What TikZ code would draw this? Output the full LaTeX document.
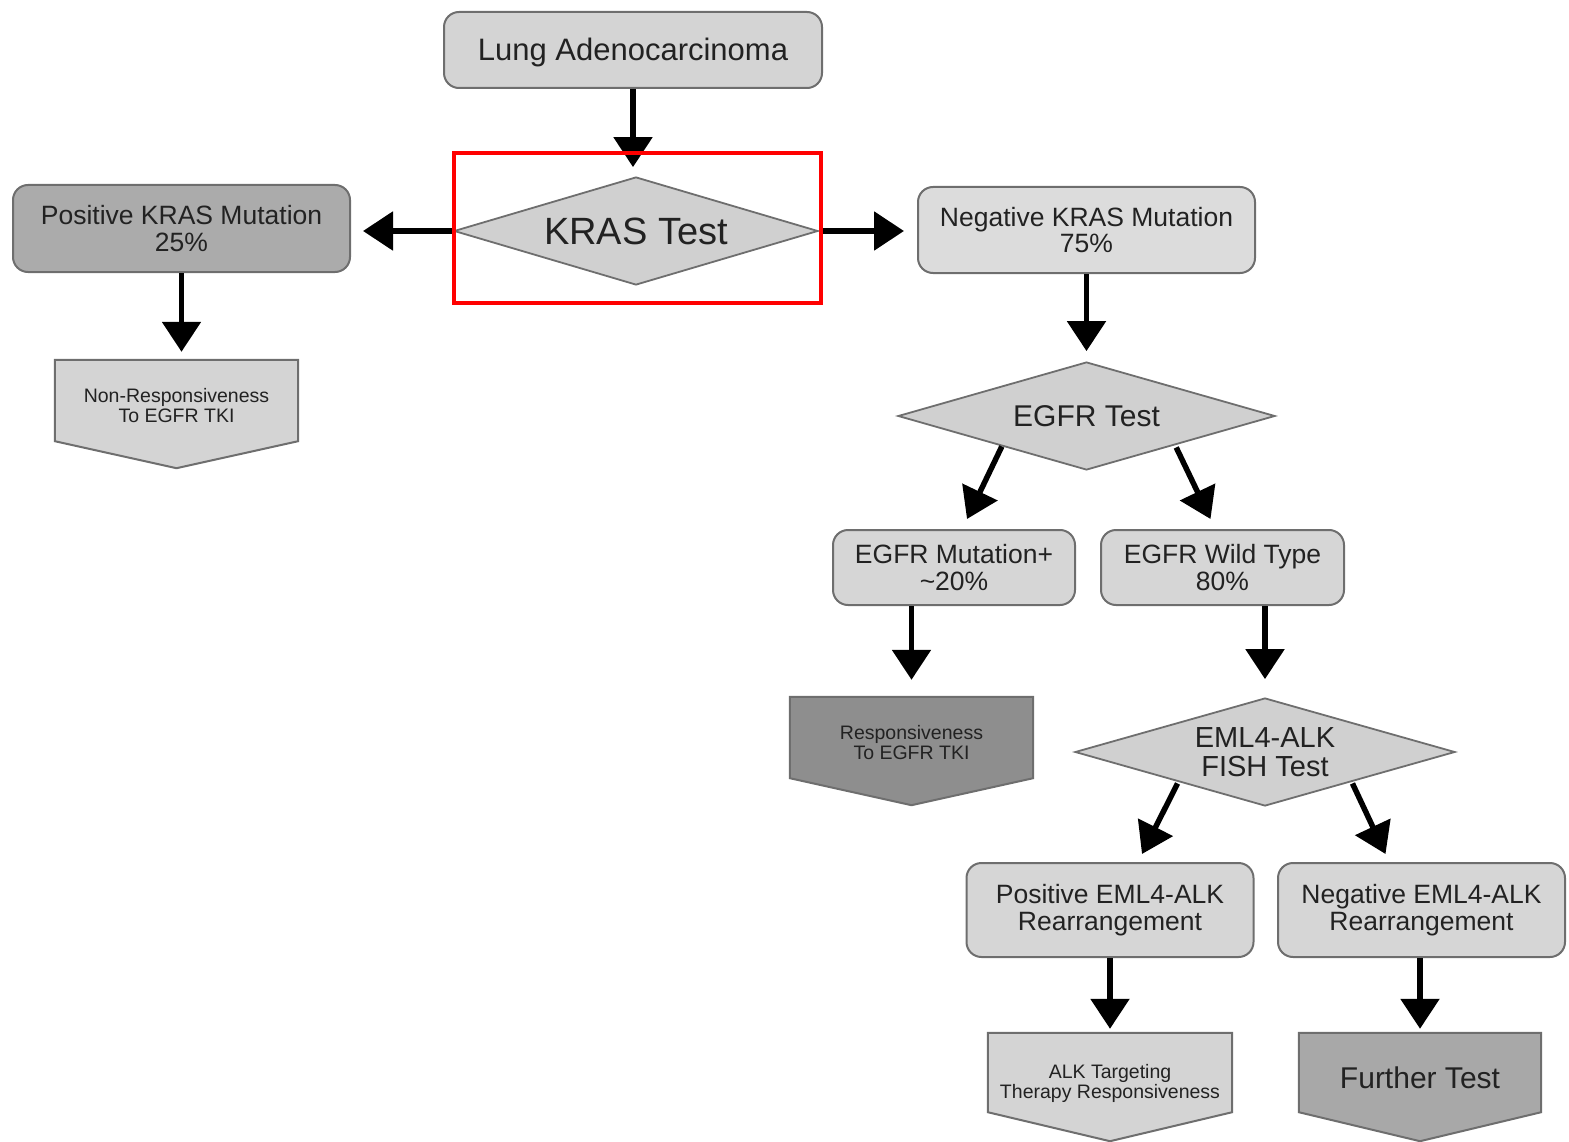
\documentclass[tikz,border=0pt]{standalone}
\usepackage{fontspec}
\setmainfont{Liberation Sans}
\usetikzlibrary{shapes.geometric,arrows.meta,calc,backgrounds}
\definecolor{bordergray}{HTML}{6E6E6E}
\definecolor{txt}{HTML}{222222}
\definecolor{cLung}{HTML}{D4D4D4}
\definecolor{cDia}{HTML}{D0D0D0}
\definecolor{cPos}{HTML}{ABABAB}
\definecolor{cNeg}{HTML}{DCDCDC}
\definecolor{cBox}{HTML}{D6D6D6}
\definecolor{cResp}{HTML}{8E8E8E}
\definecolor{cFur}{HTML}{A8A8A8}
\newcommand{\lowtxt}[2]{\raisebox{-#1}[\dimexpr\height+#1\relax][\dimexpr\depth-#1\relax]{\begin{tabular}{@{}c@{}}#2\end{tabular}}}
\begin{document}
\begin{tikzpicture}[x=1pt,y=-1pt,
  fsz/.style={font=\fontsize{#1pt}{#1pt}\selectfont},
  box/.style={draw=bordergray, line width=2pt, rounded corners=15pt, align=center, text=txt, inner sep=0pt},
  dia/.style={diamond, draw=bordergray, line width=1.8pt, align=center, text=txt, inner sep=0pt, aspect=3.4},
  body/.style={inner sep=0pt, text=txt},
  pent/.style={draw=bordergray, line width=2pt},
  arr/.style={line width=5.5pt, -{Triangle[width=38pt,length=30pt]}}
]
\useasboundingbox (0,0) rectangle (1569,1142);

% nodes
\node[box, fill=cLung, minimum width=378pt, minimum height=76pt, fsz=31] (lung) at (633,50) {\lowtxt{2pt}{Lung Adenocarcinoma}};
\node[dia, fill=cDia, minimum width=364pt, minimum height=108pt, fsz=38] (kras) at (636,231) {KRAS Test};
\node[box, fill=cPos, minimum width=337pt, minimum height=87pt, fsz=26.5] (pk) at (181.5,228.5) {Positive KRAS Mutation\\25\%};
\node[box, fill=cNeg, minimum width=337pt, minimum height=86pt, fsz=26.5] (nk) at (1086.5,230) {Negative KRAS Mutation\\75\%};
\node[dia, fill=cDia, minimum width=377pt, minimum height=108pt, fsz=30] (egfr) at (1086.5,416) {EGFR Test};
\node[box, fill=cBox, minimum width=242pt, minimum height=75pt, fsz=26.5] (mut) at (954,567.5) {EGFR Mutation+\\\textasciitilde20\%};
\node[box, fill=cBox, minimum width=243pt, minimum height=75pt, fsz=26.5] (wild) at (1222.5,567.5) {EGFR Wild Type\\80\%};
\node[dia, fill=cDia, minimum width=380pt, minimum height=108pt, fsz=29] (eml) at (1265,752) {EML4-ALK\\FISH Test};
\node[box, fill=cBox, minimum width=287pt, minimum height=94pt, fsz=26.5] (pose) at (1110,910) {Positive EML4-ALK\\Rearrangement};
\node[box, fill=cBox, minimum width=287pt, minimum height=94pt, fsz=26.5] (nege) at (1421.5,910) {Negative EML4-ALK\\Rearrangement};

\node[body, minimum width=243pt, minimum height=81pt, fsz=19.5] (nr) at (176.5,400.5) {\lowtxt{4pt}{Non-Responsiveness\\To EGFR TKI}};
\node[body, minimum width=243pt, minimum height=81pt, fsz=19.5] (resp) at (911.5,737.5) {\lowtxt{4pt}{Responsiveness\\To EGFR TKI}};
\node[body, minimum width=244pt, minimum height=79pt, fsz=19.5] (alk) at (1110,1072.5) {\lowtxt{6pt}{ALK Targeting\\Therapy Responsiveness}};
\node[body, minimum width=242pt, minimum height=79pt, fsz=30] (fur) at (1420,1072.5) {\lowtxt{5pt}{Further Test}};

\begin{scope}[on background layer]
  \draw[pent, fill=cLung] (nr.north west) -- (nr.north east) -- (nr.south east) -- ($(nr.south)+(0,27)$) -- (nr.south west) -- cycle;
  \draw[pent, fill=cResp] (resp.north west) -- (resp.north east) -- (resp.south east) -- ($(resp.south)+(0,27)$) -- (resp.south west) -- cycle;
  \draw[pent, fill=cLung] (alk.north west) -- (alk.north east) -- (alk.south east) -- ($(alk.south)+(0,29)$) -- (alk.south west) -- cycle;
  \draw[pent, fill=cFur] (fur.north west) -- (fur.north east) -- (fur.south east) -- ($(fur.south)+(0,29)$) -- (fur.south west) -- cycle;
\end{scope}

% connectors
\draw[arr, shorten >=9pt] (lung.south) -- (lung.south |- kras.north);
\draw[arr, shorten >=12pt] (kras.west) -- (kras.west -| pk.east);
\draw[arr, shorten >=13pt] (kras.east) -- (kras.east -| nk.west);
\draw[arr, shorten >=8pt] (pk.south) -- (pk.south |- nr.north);
\draw[arr, shorten >=10pt] (nk.south) -- (egfr.north);
\draw[arr] ($(egfr.south west)+(10,3)$) -- ($(mut.north)+(13,-10)$);
\draw[arr] ($(egfr.south east)+(-5,4)$) -- ($(wild.north)+(-12,-10)$);
\draw[arr, shorten >=17pt] (resp.north |- mut.south) -- (resp.north);
\draw[arr, shorten >=18pt] (eml.north |- wild.south) -- (eml.north);
\draw[arr] ($(eml.south west)+(8,4)$) -- ($(pose.north)+(32,-8)$);
\draw[arr] ($(eml.south east)+(-8,4)$) -- ($(nege.north)+(-36,-8)$);
\draw[arr, shorten >=4pt] (pose.south) -- (alk.north);
\draw[arr, shorten >=4pt] (fur.north |- nege.south) -- (fur.north);

% highlight
\node[draw=red, line width=4.5pt, minimum width=367pt, minimum height=150pt, inner sep=0pt] (hl) at (637.5,228) {};
\end{tikzpicture}
\end{document}
